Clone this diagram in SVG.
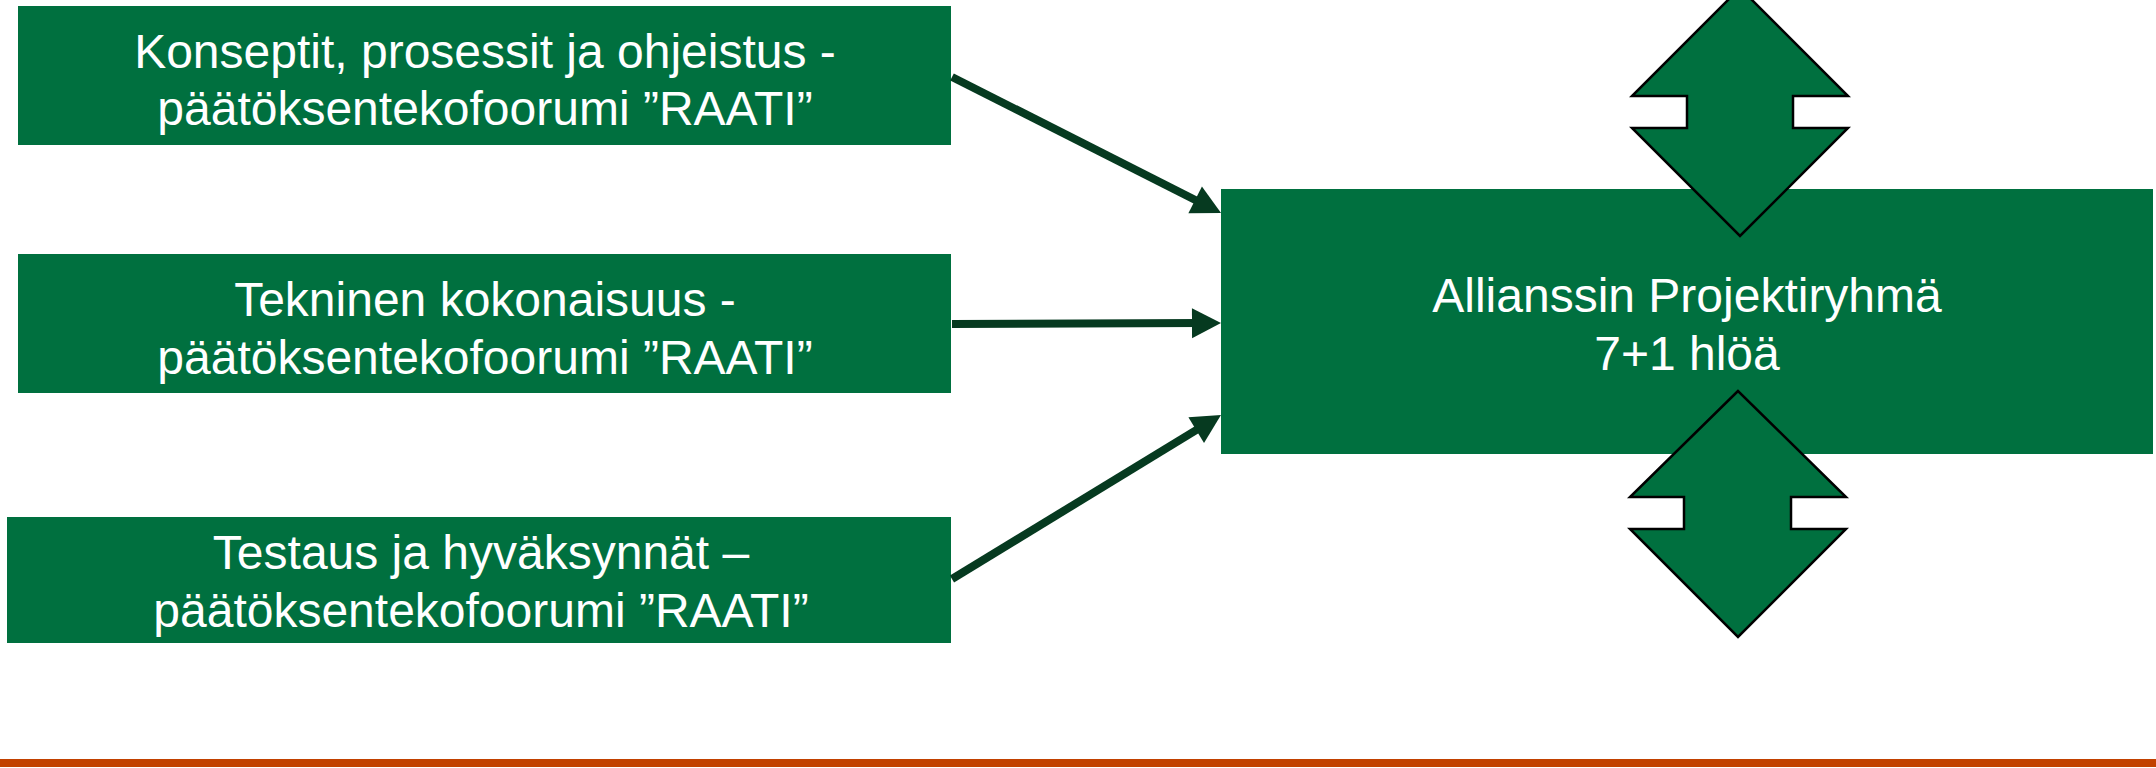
<svg xmlns="http://www.w3.org/2000/svg" width="2156" height="768" viewBox="0 0 2156 768">
<style>
.box{fill:#00703F}
.t{fill:#FFFFFF;font-family:"Liberation Sans",Arial,sans-serif;font-size:48px;text-anchor:middle}
.conn{stroke:#063A20;stroke-width:8;fill:none;marker-end:url(#ah)}
.dbl{fill:#00703F;stroke:#000000;stroke-width:2.5;stroke-linejoin:miter}
</style>
<defs>
<marker id="ah" markerUnits="userSpaceOnUse" markerWidth="30" markerHeight="32" refX="9" refY="15" orient="auto" viewBox="0 0 30 30" overflow="visible">
<path d="M0,0 L29,15 L0,30 Z" fill="#063A20"/>
</marker>
</defs>
<rect width="2156" height="768" fill="#FFFFFF"/>
<g id="node-konseptit">
<rect class="box" x="18" y="6" width="933" height="139"/>
<text class="t" x="485" y="68">Konseptit, prosessit ja ohjeistus -</text>
<text class="t" x="485" y="125">päätöksentekofoorumi ”RAATI”</text>
</g>
<g id="node-tekninen">
<rect class="box" x="18" y="254" width="933" height="139"/>
<text class="t" x="485" y="316">Tekninen kokonaisuus -</text>
<text class="t" x="485" y="374">päätöksentekofoorumi ”RAATI”</text>
</g>
<g id="node-testaus">
<rect class="box" x="7" y="517" width="944" height="126"/>
<text class="t" x="481" y="569">Testaus ja hyväksynnät –</text>
<text class="t" x="481" y="627">päätöksentekofoorumi ”RAATI”</text>
</g>
<g id="node-projektiryhma">
<rect class="box" x="1221" y="189" width="932" height="265"/>
<text class="t" x="1687" y="312">Allianssin Projektiryhmä</text>
<text class="t" x="1687" y="370">7+1 hlöä</text>
</g>
<g id="node-double-arrow-top">
<path class="dbl" d="M1740,-12 L1632,96 L1687,96 L1687,128 L1632,128 L1740,236 L1848,128 L1793,128 L1793,96 L1848,96 Z"/>
</g>
<g id="node-double-arrow-bottom">
<path class="dbl" d="M1738,391 L1630,497 L1684,497 L1684,529 L1630,529 L1738,637 L1846,529 L1791,529 L1791,497 L1846,497 Z"/>
</g>
<g id="connectors">
<line class="conn" x1="952" y1="77" x2="1203.2" y2="204"/>
<line class="conn" x1="952" y1="324" x2="1201" y2="323.1"/>
<line class="conn" x1="952" y1="579" x2="1203.9" y2="425.4"/>
</g>
<rect x="0" y="759" width="2156" height="8" fill="#C24100"/>
</svg>
